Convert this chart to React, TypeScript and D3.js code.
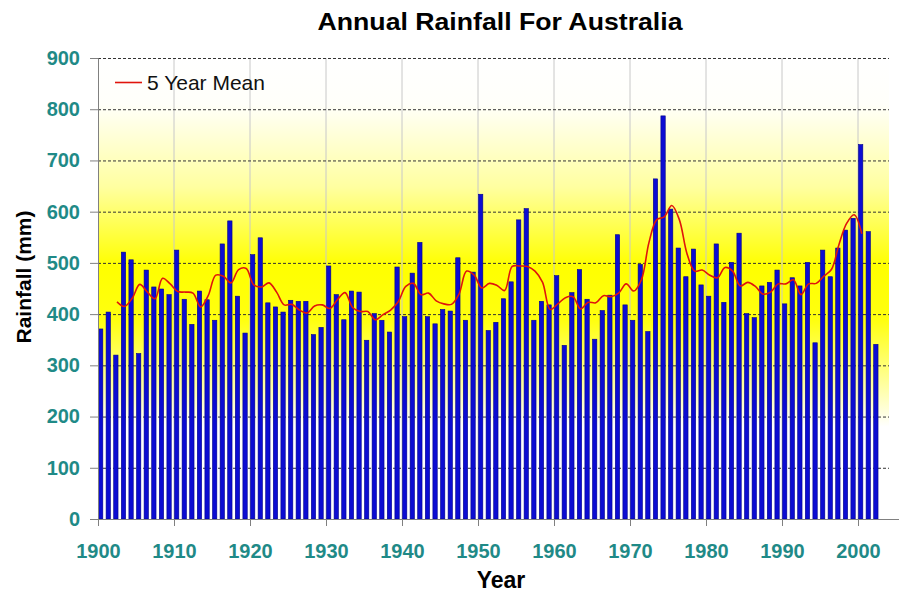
import React, { useEffect, useRef } from "react";
import * as d3 from "d3";

// annual rainfall (mm), 1900..2002
const years: number[] = d3.range(1900, 2003);
const rainfall: number[] = [
  371, 404, 320, 521, 506, 323, 486, 453, 449, 438,
  525, 429, 380, 445, 428, 388, 537, 582, 435, 363,
  516, 549, 422, 414, 404, 427, 425, 425, 360, 374,
  494, 438, 389, 445, 443, 349, 401, 388, 365, 492,
  395, 480, 540, 395, 381, 409, 406, 510, 388, 482,
  634, 368, 384, 430, 463, 584, 606, 388, 425, 418,
  475, 339, 442, 487, 429, 351, 407, 437, 555, 418,
  388, 497, 366, 664, 787, 605, 529, 473, 527, 457,
  435, 537, 423, 501, 558, 401, 393, 455, 462, 486,
  420, 471, 455, 501, 344, 525, 473, 529, 564, 587,
  731, 561, 341,
];

// 5 year mean line, 1902..2000
const meanYears: number[] = d3.range(1902, 2001);
const fiveYearMean: number[] = [
  424, 415, 431, 458, 443, 430, 470, 459,
  444, 443, 441, 414, 436, 476, 474, 461, 487, 489,
  457, 453, 461, 443, 418, 419, 408, 402, 416, 418,
  411, 428, 442, 413, 405, 405, 389, 399, 408, 424,
  454, 460, 438, 441, 426, 420, 419, 439, 484, 476,
  451, 460, 456, 446, 493, 494, 493, 484, 462, 409,
  420, 432, 434, 410, 423, 422, 436, 434, 441, 459,
  445, 467, 540, 584, 590, 612, 584, 518, 484, 486,
  476, 471, 491, 484, 455, 462, 454, 439, 443, 459,
  459, 467, 438, 459, 460, 474, 487, 536, 577, 594,
  557,
];

const yTicks: number[] = [0, 100, 200, 300, 400, 500, 600, 700, 800, 900];
const xTicks: number[] = [1900, 1910, 1920, 1930, 1940, 1950, 1960, 1970, 1980, 1990, 2000];

const W = 899;
const H = 600;
const left = 98;
const top = 58;
const bottom = 519;
const right = 889;
const teal = "#1f8a87";

const App = () => {
  const ref = useRef<SVGSVGElement>(null);

  useEffect(() => {
    const svg = d3.select(ref.current);
    svg.selectAll("*").remove();

    const x = d3.scaleLinear().domain([1900, 2000]).range([left, 858]);
    const y = d3.scaleLinear().domain([0, 900]).range([bottom, top]);
    const step = x(1901) - x(1900);

    const defs = svg.append("defs");
    const grad = defs
      .append("linearGradient")
      .attr("id", "bg")
      .attr("x1", 0).attr("y1", 0)
      .attr("x2", 0).attr("y2", 1);
    [
      [0, "#ffffff"],
      [0.1, "#fffffa"],
      [0.28, "#ffffa0"],
      [0.45, "#ffff00"],
      [0.57, "#ffff10"],
      [0.8, "#ffffff"],
      [1, "#ffffff"],
    ].forEach(([o, c]) => grad.append("stop").attr("offset", o as number).attr("stop-color", c as string));

    svg.append("rect")
      .attr("x", left).attr("y", top)
      .attr("width", right - left).attr("height", bottom - top)
      .attr("fill", "url(#bg)");

    // vertical grid
    svg.append("g")
      .selectAll("line")
      .data(xTicks.slice(1))
      .join("line")
      .attr("x1", d => x(d)).attr("x2", d => x(d))
      .attr("y1", top).attr("y2", bottom)
      .attr("stroke", "#c8c8c8")
      .attr("stroke-width", 1);

    // horizontal dashed grid
    svg.append("g")
      .selectAll("line")
      .data(yTicks.slice(1))
      .join("line")
      .attr("x1", left).attr("x2", right)
      .attr("y1", d => y(d) + 0.5).attr("y2", d => y(d) + 0.5)
      .attr("stroke", "#333")
      .attr("stroke-dasharray", "3,2")
      .attr("stroke-width", 1);

    // bars
    svg.append("g")
      .selectAll("rect")
      .data(years)
      .join("rect")
      .attr("x", d => x(d) + 0.5)
      .attr("y", (d, i) => y(rainfall[i]))
      .attr("width", step * 0.57)
      .attr("height", (d, i) => bottom - y(rainfall[i]))
      .attr("fill", "#0c0cd2")
      .attr("stroke", "#00008a")
      .attr("stroke-width", 0.6);

    // mean line
    const line = d3.line<number>()
      .x((d, i) => x(meanYears[i] + 0.5))
      .y(d => y(d))
      .curve(d3.curveCatmullRom);
    svg.append("path")
      .datum(fiveYearMean)
      .attr("d", line)
      .attr("fill", "none")
      .attr("stroke", "#e0140c")
      .attr("stroke-width", 1.6);

    // y axis
    const yAxis = svg.append("g").attr("transform", `translate(${left},0)`)
      .call(d3.axisLeft(y).tickValues(yTicks).tickSize(8).tickPadding(10).tickFormat(d3.format("d")));
    yAxis.select(".domain").attr("stroke", "#808080");
    yAxis.selectAll(".tick line").attr("stroke", "#808080");
    yAxis.selectAll("text")
      .attr("fill", teal)
      .attr("font-family", "'Liberation Sans', Arial, sans-serif")
      .attr("font-weight", "bold")
      .attr("font-size", 20);

    // x axis
    const xAxis = svg.append("g").attr("transform", `translate(0,${bottom})`)
      .call(d3.axisBottom(x).tickValues(xTicks).tickSize(7).tickPadding(18).tickFormat(d3.format("d")));
    xAxis.select(".domain").attr("d", `M${left},0.5H${W}`).attr("stroke", "#808080");
    xAxis.selectAll(".tick line").attr("stroke", "#808080");
    xAxis.selectAll("text")
      .attr("fill", teal)
      .attr("font-family", "'Liberation Sans', Arial, sans-serif")
      .attr("font-weight", "bold")
      .attr("font-size", 20);

    // titles
    svg.append("text")
      .attr("x", 500).attr("y", 30)
      .attr("text-anchor", "middle")
      .attr("font-family", "'Liberation Sans', Arial, sans-serif")
      .attr("font-weight", "bold")
      .attr("font-size", 24)
      .attr("textLength", 365)
      .attr("lengthAdjust", "spacingAndGlyphs")
      .text("Annual Rainfall For Australia");

    svg.append("text")
      .attr("x", 501).attr("y", 588)
      .attr("text-anchor", "middle")
      .attr("font-family", "'Liberation Sans', Arial, sans-serif")
      .attr("font-weight", "bold")
      .attr("font-size", 23)
      .text("Year");

    svg.append("text")
      .attr("transform", "translate(31,277) rotate(-90)")
      .attr("text-anchor", "middle")
      .attr("font-family", "'Liberation Sans', Arial, sans-serif")
      .attr("font-weight", "bold")
      .attr("font-size", 21)
      .text("Rainfall (mm)");

    // legend
    svg.append("line")
      .attr("x1", 115).attr("x2", 142)
      .attr("y1", 82.5).attr("y2", 82.5)
      .attr("stroke", "#e0140c")
      .attr("stroke-width", 1.6);
    svg.append("text")
      .attr("x", 147).attr("y", 90)
      .attr("font-family", "'Liberation Sans', Arial, sans-serif")
      .attr("font-size", 21)
      .attr("fill", "#111")
      .text("5 Year Mean");
  }, []);

  return (
    <svg
      ref={ref}
      width={W}
      height={H}
      style={{ position: "absolute", left: 0, top: 0, background: "#fff" }}
    />
  );
};

export default App;
